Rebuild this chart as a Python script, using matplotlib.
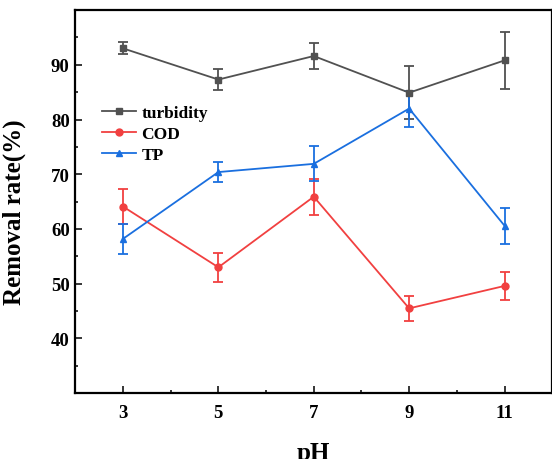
import matplotlib.pyplot as plt
from matplotlib.ticker import MultipleLocator

ph = [3, 5, 7, 9, 11]
turbidity = [93.0, 87.3, 91.6, 84.9, 90.8]
turbidity_err = [1.1, 1.9, 2.3, 4.8, 5.2]
cod = [64.1, 53.0, 65.9, 45.5, 49.6]
cod_err = [3.2, 2.6, 3.3, 2.3, 2.5]
tp = [58.2, 70.4, 71.9, 82.0, 60.6]
tp_err = [2.7, 1.9, 3.2, 3.3, 3.3]

plt.rcParams['font.family'] = ['Liberation Serif', 'DejaVu Serif']
plt.rcParams['font.weight'] = 'bold'

fig = plt.figure(figsize=(5.52, 4.6), dpi=100)
ax = fig.add_axes([0.1364, 0.143, 0.864, 0.833])

series = [
    (turbidity, turbidity_err, '#515151', 's', 'turbidity'),
    (cod, cod_err, '#F14040', 'o', 'COD'),
    (tp, tp_err, '#1A6FDF', '^', 'TP'),
]
handles = []
for vals, errs, col, mk, lab in series:
    c = ax.errorbar(ph, vals, yerr=errs, color=col, marker=mk, markersize=5,
                    linewidth=1.3, elinewidth=1.3, capsize=3.5, capthick=1.3,
                    label=lab)
    handles.append(c[0])  # line only, no error bars in legend

ax.set_xlim(2, 12)
ax.set_ylim(30, 100)
ax.set_xticks(ph)
ax.set_yticks([40, 50, 60, 70, 80, 90])
ax.xaxis.set_minor_locator(MultipleLocator(1))
ax.yaxis.set_minor_locator(MultipleLocator(5))
ax.tick_params(which='major', direction='in', length=5, width=1.1, labelsize=13.5)
ax.tick_params(which='minor', direction='in', length=2.5, width=1.1)
ax.tick_params(axis='x', pad=8)
ax.tick_params(axis='y', pad=4)
for s in ax.spines.values():
    s.set_linewidth(1.6)

ax.set_xlabel('pH', fontsize=18, fontweight='bold', labelpad=14)
ax.set_ylabel('Removal rate(%)', fontsize=18, fontweight='bold')
ax.yaxis.set_label_coords(-0.103, 0.476)

ax.legend(handles, [s[4] for s in series], loc='upper left',
          bbox_to_anchor=(0.055, 0.752), frameon=False,
          prop={'size': 12.5, 'weight': 'bold'}, handlelength=2.0,
          handletextpad=0.3, labelspacing=0.27, borderpad=0, borderaxespad=0)

plt.savefig('out.png', dpi=100)
plt.close('all')
